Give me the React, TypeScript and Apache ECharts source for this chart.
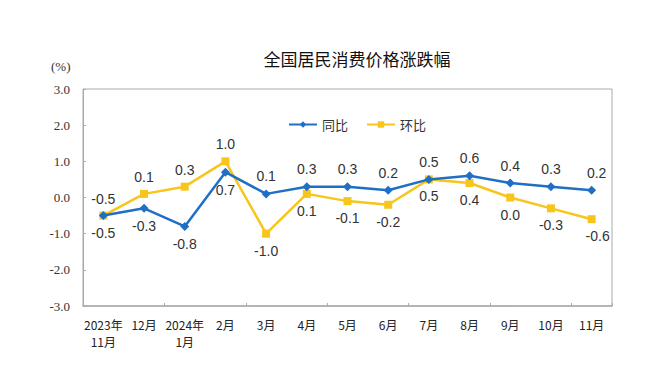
import React, { useEffect, useRef } from "react";
import * as echarts from "echarts";

const categories = ["2023年\n11月", "12月", "2024年\n1月", "2月", "3月", "4月", "5月", "6月", "7月", "8月", "9月", "10月", "11月"];
const yoy = [-0.5, -0.3, -0.8, 0.7, 0.1, 0.3, 0.3, 0.2, 0.5, 0.6, 0.4, 0.3, 0.2];
const mom = [-0.5, 0.1, 0.3, 1.0, -1.0, 0.1, -0.1, -0.2, 0.5, 0.4, 0.0, -0.3, -0.6];
const yoyLabelPos = ["bottom", "bottom", "bottom", "bottom", "top", "top", "top", "top", "top", "top", "top", "top", "top"];
const momLabelPos = ["top", "top", "top", "top", "bottom", "bottom", "bottom", "bottom", "bottom", "bottom", "bottom", "bottom", "bottom"];

const BLUE = "#1f6fc5";
const YELLOW = "#f7c51c";

export default function App() {
  const ref = useRef<HTMLDivElement>(null);
  useEffect(() => {
    document.body.style.margin = "0";
    const chart = echarts.init(ref.current!, null, { renderer: "svg" });
    const labelBase = { show: true, fontSize: 14, color: "#333", fontFamily: "Liberation Sans, Arial, sans-serif", formatter: (p: any) => Number(p.value).toFixed(1) };
    const last = categories.length - 1;
    chart.setOption({
      animation: false,
      backgroundColor: "#fff",
      title: {
        text: "全国居民消费价格涨跌幅",
        left: 352,
        textAlign: "center",
        top: 45,
        textStyle: { fontSize: 17, fontWeight: "normal", color: "#111", fontFamily: "Noto Sans CJK SC" },
      },
      graphic: [
        { type: "text", left: 51, top: 60, style: { text: "(%)", fontSize: 13, fill: "#333", fontFamily: "Liberation Serif, serif" } },
      ],
      legend: {
        top: 113,
        left: 283,
        itemWidth: 28,
        itemHeight: 8,
        itemGap: 18,
        textStyle: { fontSize: 13, color: "#333", fontFamily: "Noto Sans CJK SC" },
        data: ["同比", "环比"],
      },
      grid: { left: 83, right: 43, top: 89, bottom: 75, show: true, borderColor: "#aaa", borderWidth: 1 },
      xAxis: [
        {
          type: "category",
          data: categories,
          boundaryGap: true,
          axisLine: { show: false },
          axisTick: { show: false },
          axisLabel: { interval: 0, fontSize: 12, color: "#222", fontFamily: "Noto Sans CJK SC", margin: 10, lineHeight: 17 },
        },
        {
          type: "category",
          data: categories,
          boundaryGap: true,
          position: "bottom",
          axisLine: { show: true, onZero: true, lineStyle: { color: "#aaa", width: 1.5 } },
          axisTick: { show: true, inside: true, length: 3, lineStyle: { color: "#aaa" } },
          axisLabel: { show: false },
        },
      ],
      yAxis: {
        type: "value",
        min: -3,
        max: 3,
        interval: 1,
        axisLine: { show: true, lineStyle: { color: "#aaa" } },
        axisTick: { show: true, inside: true, length: 3, lineStyle: { color: "#aaa" } },
        splitLine: { show: false },
        axisLabel: { fontSize: 13, color: "#333", fontFamily: "Liberation Serif, serif", margin: 13, formatter: (v: number) => v.toFixed(1) },
      },
      series: [
        {
          name: "同比",
          type: "line",
          data: yoy.map((v, i) => ({ value: v, label: { position: yoyLabelPos[i], offset: i === last ? [5, 0] : [0, 0] } })),
          symbol: "diamond",
          symbolSize: 9,
          lineStyle: { color: BLUE, width: 2.5 },
          itemStyle: { color: BLUE },
          label: { ...labelBase, distance: 6 },
          z: 3,
        },
        {
          name: "环比",
          type: "line",
          data: mom.map((v, i) => ({ value: v, label: { position: momLabelPos[i], offset: i === last ? [6, 0] : [0, 0] } })),
          symbol: "rect",
          symbolSize: 8,
          lineStyle: { color: YELLOW, width: 2.5 },
          itemStyle: { color: YELLOW },
          label: { ...labelBase, distance: 6 },
          z: 2,
        },
      ],
    });
    return () => chart.dispose();
  }, []);
  return <div ref={ref} style={{ width: 655, height: 381 }} />;
}
